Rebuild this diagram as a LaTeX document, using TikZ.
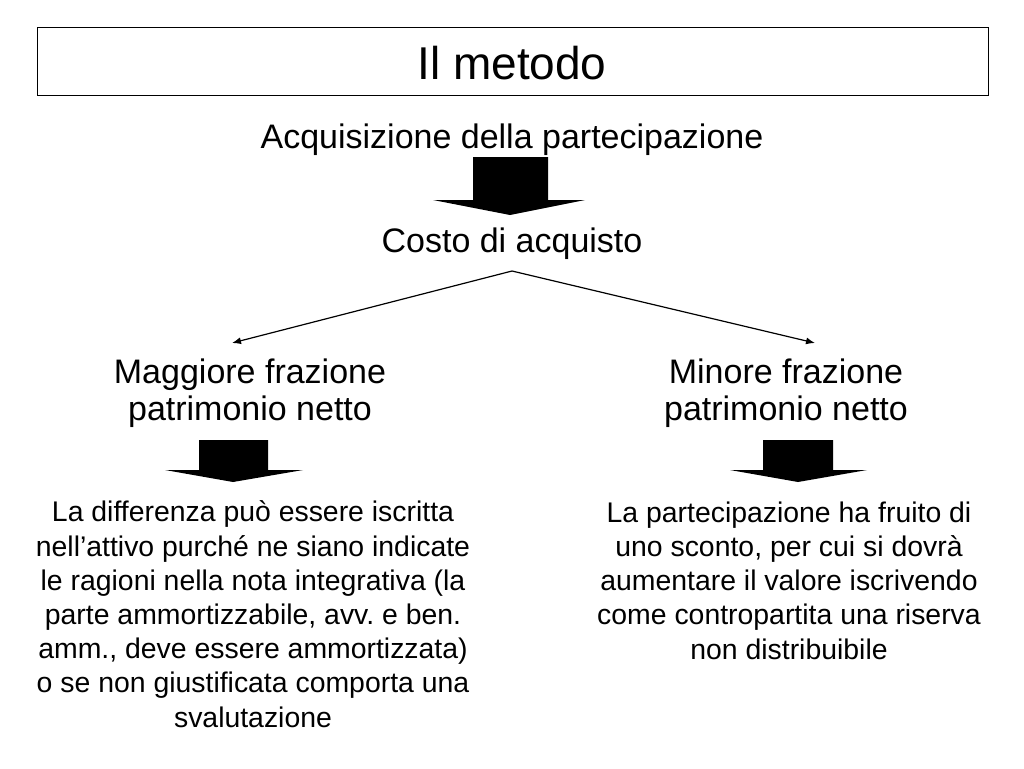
\documentclass[tikz,border=0pt]{standalone}
\usepackage{fontspec}
\setmainfont{Liberation Sans}
\usetikzlibrary{arrows.meta}
\frenchspacing
\begin{document}
\begin{tikzpicture}[x=1pt,y=-1pt,
  big/.style={font=\fontsize{34}{37}\selectfont, inner sep=0pt, align=center},
  small/.style={font=\fontsize{28.4}{34.2}\selectfont, inner sep=0pt, align=center},
  blockarrow/.style={fill=black, draw=none},
  thin/.style={line width=1.2pt, -{Latex[length=9pt,width=7pt]}}]
\useasboundingbox (0,0) rectangle (1024,768);
\node[draw, line width=1pt, minimum width=951pt, minimum height=67pt, inner sep=0pt] (titlebox) at (512.5,61.5) {};
\node[font=\fontsize{46}{50}\selectfont, inner sep=0pt, anchor=base] (title) at (512,79) {Il metodo};
\node[big, anchor=base] (acq) at (512,148) {Acquisizione della partecipazione};
\node[big, anchor=base] (costo) at (512,252) {Costo di acquisto};
\coordinate (apex) at (512,271);
\node[big, anchor=base] (mag) at (250,420) {Maggiore frazione\\patrimonio netto};
\node[big, anchor=base] (min) at (786,420) {Minore frazione\\patrimonio netto};
\coordinate (lend) at (232,343);
\coordinate (rend) at (815,343);
\draw[thin] (apex) -- (lend);
\draw[thin] (apex) -- (rend);
% block arrows
\fill[blockarrow] (473,157) -- (548,157) -- (548,200) -- (585,200) -- (510,215) -- (433,200) -- (473,200) -- cycle;
\fill[blockarrow] (199,440) -- (268,440) -- (268,470) -- (303,470) -- (233,482) -- (165,470) -- (199,470) -- cycle;
\fill[blockarrow] (763,440) -- (833,440) -- (833,470) -- (867,470) -- (798,482) -- (730,470) -- (763,470) -- cycle;
\node[small, anchor=base] (left) at (253,727) {La differenza può essere iscritta\\nell’attivo purché ne siano indicate\\le ragioni nella nota integrativa (la\\parte ammortizzabile, avv. e ben.\\amm., deve essere ammortizzata)\\o se non giustificata comporta una\\svalutazione};
\node[small, anchor=base] (right) at (789,659) {La partecipazione ha fruito di\\uno sconto, per cui si dovrà\\aumentare il valore iscrivendo\\come contropartita una riserva\\non distribuibile};
\end{tikzpicture}
\end{document}
